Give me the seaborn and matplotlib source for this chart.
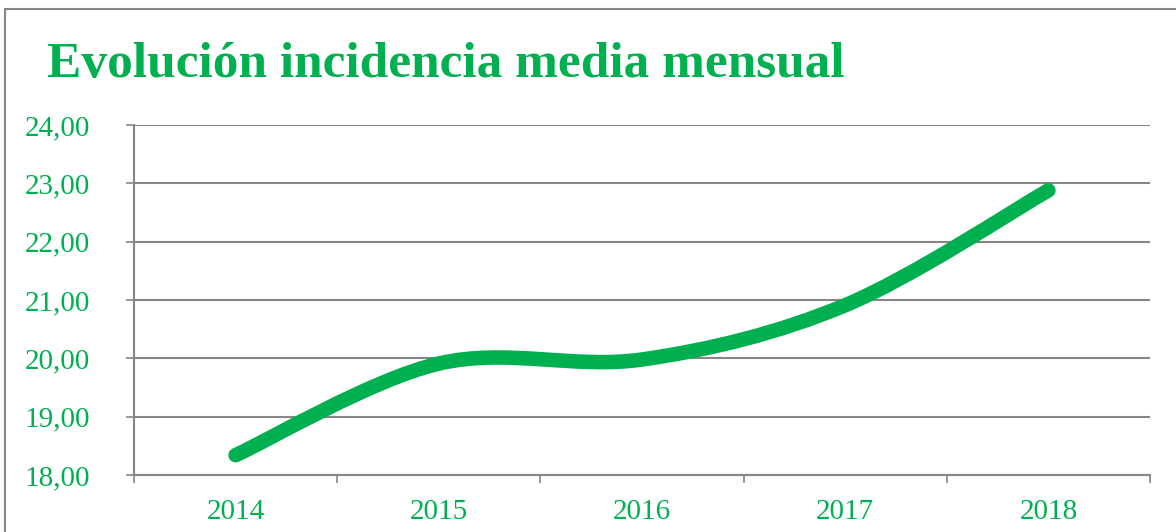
import matplotlib
matplotlib.use("Agg")
import numpy as np
import matplotlib.pyplot as plt
import seaborn as sns
from matplotlib.path import Path
from matplotlib.patches import PathPatch
from matplotlib.lines import Line2D

# Datos
anios = ["2014", "2015", "2016", "2017", "2018"]
incidencia = [18.34, 19.91, 19.98, 20.91, 22.88]
y_ticks = [18, 19, 20, 21, 22, 23, 24]
y_etiquetas = ["18,00", "19,00", "20,00", "21,00", "22,00", "23,00", "24,00"]

verde = "#00B050"
gris = "#868686"

sns.set_theme(style="white")
plt.rcParams['font.family'] = ['Liberation Serif', 'DejaVu Serif']

W, H = 1176, 532
fig = plt.figure(figsize=(W / 100, H / 100), dpi=100)
ax = fig.add_axes([134 / W, 1 - 475 / H, (1150 - 134) / W, (475 - 125) / H])

# Linea suavizada (Bezier tipo Excel) a partir de los puntos
xs = np.arange(len(anios), dtype=float)
pts = np.column_stack([xs, incidencia])
ext = np.vstack([pts[0], pts, pts[-1]])
verts = [tuple(pts[0])]
codes = [Path.MOVETO]
for i in range(len(pts) - 1):
    p0, p1, p2, p3 = ext[i], ext[i + 1], ext[i + 2], ext[i + 3]
    c1 = p1 + (p2 - p0) / 6
    c2 = p2 - (p3 - p1) / 6
    verts += [tuple(c1), tuple(c2), tuple(p2)]
    codes += [Path.CURVE4] * 3
curva = PathPatch(Path(verts, codes), fill=False, edgecolor=verde, lw=10.5,
                  capstyle="round", joinstyle="round", zorder=3)
ax.add_patch(curva)

ax.set_xlim(-0.5, len(anios) - 0.5)
ax.set_ylim(18, 24)

ax.set_yticks(y_ticks)
ax.set_yticklabels(y_etiquetas)
ax.set_xticks(xs)
ax.set_xticklabels(anios)
ax.set_xticks(np.arange(-0.5, len(anios), 1.0), minor=True)

ax.tick_params(axis="y", which="major", direction="out", length=5.8, width=1.2,
               color=gris, pad=26, labelsize=21, labelcolor=verde, left=True)
ax.tick_params(axis="x", which="major", length=0, pad=17, labelsize=21,
               labelcolor=verde)
ax.tick_params(axis="x", which="minor", direction="out", length=5.8, width=1.2,
               color=gris, bottom=True)

ax.yaxis.grid(True, color=gris, lw=1.5)
ax.set_axisbelow(True)
sns.despine(ax=ax, top=True, right=True)
for s in ["left", "bottom"]:
    ax.spines[s].set_color(gris)
    ax.spines[s].set_linewidth(1.5)

# Titulo
fig.text(47 / W, 1 - 77 / H, "Evolución incidencia media mensual",
         fontsize=37, fontweight="bold", color=verde, ha="left", va="baseline")

# Marco exterior
fig.add_artist(Line2D([4.5 / W, 4.5 / W], [0, 1 - 8.5 / H], color=gris, lw=1.5,
                      transform=fig.transFigure))
fig.add_artist(Line2D([4.5 / W, 1], [1 - 8.5 / H, 1 - 8.5 / H], color=gris, lw=1.5,
                      transform=fig.transFigure))

fig.savefig("out.png", dpi=100)
